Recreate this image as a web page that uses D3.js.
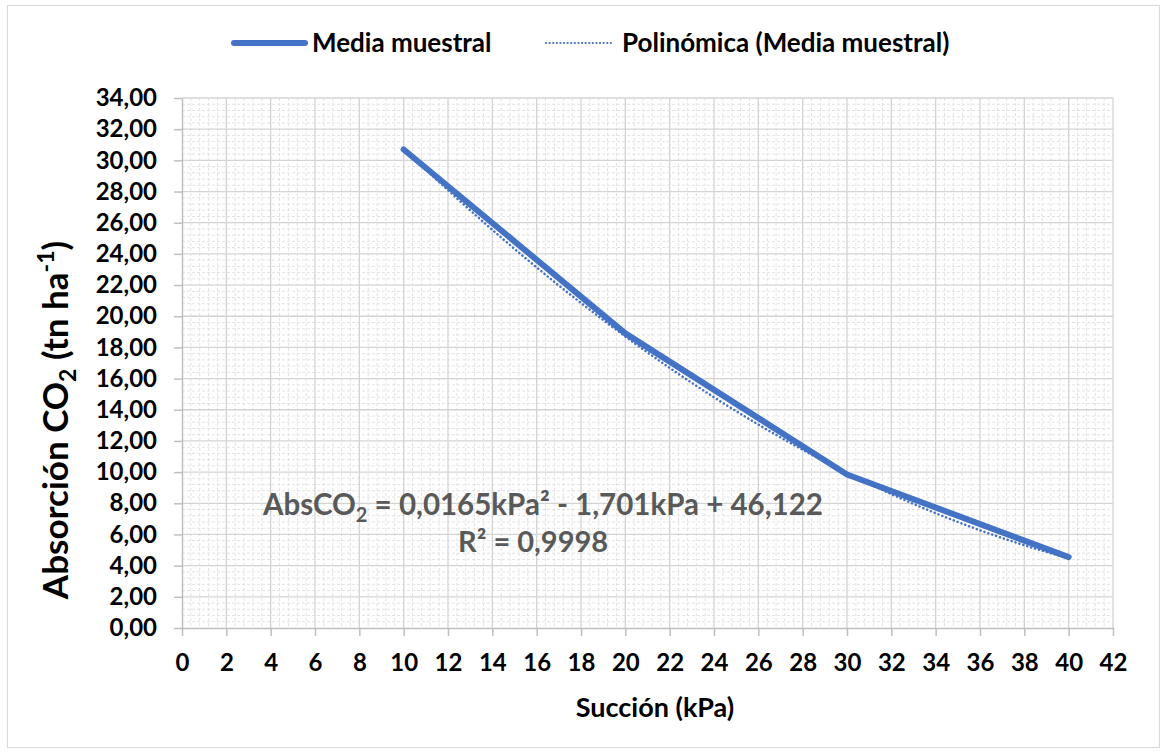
<!DOCTYPE html>
<html><head><meta charset="utf-8">
<script src="https://cdn.jsdelivr.net/npm/d3@7"></script>
<style>body{margin:0;background:#fff;} svg{display:block;font-family:Lato,'Open Sans',sans-serif;}</style>
</head><body><svg id="c" width="1166" height="755"></svg>
<script>
const suction = [10, 20, 30, 40];
const meanValues = [30.7, 18.9, 9.85, 4.55];
const polyCoefs = [0.0165, -1.701, 46.122]; // a x^2 + b x + c, as displayed
const xTicks = d3.range(0, 43, 2);
const yTicks = d3.range(0, 35, 2);
const seriesNames = ["Media muestral", "Polinómica (Media muestral)"];

const W = 1166, H = 755;
const m = {l: 182, r: 1113, t: 98, b: 628};
const svg = d3.select("#c");
const x = d3.scaleLinear().domain([0, 42]).range([m.l, m.r]);
const y = d3.scaleLinear().domain([0, 34]).range([m.b, m.t]);
const blue = "#4472C4";

svg.append("rect").attr("x", 7.5).attr("y", 5.5).attr("width", 1152).attr("height", 742)
  .attr("fill", "#fff").attr("stroke", "#d9d9d9").attr("stroke-width", 1);

// minor grid
const g = svg.append("g");
const xMinor = d3.range(0, 42.001, 0.4).filter(v => Math.abs(v/2 - Math.round(v/2)) > 1e-6);
const yMinor = d3.range(0, 34.001, 0.4).filter(v => Math.abs(v/2 - Math.round(v/2)) > 1e-6);
g.selectAll(".xm").data(xMinor).join("line")
  .attr("x1", d => x(d)).attr("x2", d => x(d)).attr("y1", m.t).attr("y2", m.b)
  .attr("stroke", "#e3e3e3").attr("stroke-width", 1).attr("stroke-dasharray", "3,2");
g.selectAll(".ym").data(yMinor).join("line")
  .attr("y1", d => y(d)).attr("y2", d => y(d)).attr("x1", m.l).attr("x2", m.r)
  .attr("stroke", "#e3e3e3").attr("stroke-width", 1).attr("stroke-dasharray", "3,2");
// major grid
g.selectAll(".xM").data(xTicks.slice(1)).join("line")
  .attr("x1", d => x(d)).attr("x2", d => x(d)).attr("y1", m.t).attr("y2", m.b)
  .attr("stroke", "#d4d4d4").attr("stroke-width", 1.3);
g.selectAll(".yM").data(yTicks.slice(1)).join("line")
  .attr("y1", d => y(d)).attr("y2", d => y(d)).attr("x1", m.l).attr("x2", m.r)
  .attr("stroke", "#d4d4d4").attr("stroke-width", 1.3);

// axes
const fmt = d => d3.format(".2f")(d).replace(".", ",");
const xAxis = svg.append("g").attr("transform", `translate(0,${m.b})`)
  .call(d3.axisBottom(x).tickValues(xTicks).tickSize(8).tickSizeOuter(0).tickPadding(15).tickFormat(d3.format("d")));
const yAxis = svg.append("g").attr("transform", `translate(${m.l},0)`)
  .call(d3.axisLeft(y).tickValues(yTicks).tickSize(8).tickSizeOuter(0).tickPadding(17).tickFormat(fmt));
[xAxis, yAxis].forEach(a => {
  a.select(".domain").attr("stroke", "#bfbfbf").attr("stroke-width", 1.5);
  a.selectAll(".tick line").attr("stroke", "#bfbfbf").attr("stroke-width", 1.5);
  a.selectAll("text").attr("fill", "#000").attr("font-size", 24).attr("font-weight", 700).attr("font-family", "Lato");
});
xAxis.selectAll("text").attr("dy", "0.85em");

// trendline (from displayed coefficients)
const poly = v => polyCoefs[0]*v*v + polyCoefs[1]*v + polyCoefs[2];
const trendX = d3.range(suction[0], suction[suction.length-1] + 0.001, 0.25);
svg.append("path").datum(trendX)
  .attr("d", d3.line().x(d => x(d)).y(d => y(poly(d))))
  .attr("fill", "none").attr("stroke", blue).attr("stroke-width", 2.5)
  .attr("stroke-dasharray", "0.1,4").attr("stroke-linecap", "round");

// series
svg.append("path").datum(suction.map((s, i) => [s, meanValues[i]]))
  .attr("d", d3.line().x(d => x(d[0])).y(d => y(d[1])))
  .attr("fill", "none").attr("stroke", blue).attr("stroke-width", 6)
  .attr("stroke-linecap", "round").attr("stroke-linejoin", "round");

// legend
const lg = svg.append("g");
lg.append("line").attr("x1", 234).attr("x2", 305).attr("y1", 43).attr("y2", 43)
  .attr("stroke", blue).attr("stroke-width", 6).attr("stroke-linecap", "round");
lg.append("text").attr("x", 312).attr("y", 52).text(seriesNames[0])
  .attr("font-size", 26).attr("font-weight", 700);
lg.append("line").attr("x1", 546).attr("x2", 612).attr("y1", 43).attr("y2", 43)
  .attr("stroke", blue).attr("stroke-width", 2.2).attr("stroke-dasharray", "0.1,3.5").attr("stroke-linecap", "round");
lg.append("text").attr("x", 622).attr("y", 52).text(seriesNames[1])
  .attr("font-size", 26).attr("font-weight", 700);

// equation
const eq = svg.append("text").attr("x", 263).attr("y", 515).attr("font-size", 29.5).attr("font-weight", 700).attr("fill", "#595959");
eq.append("tspan").text("AbsCO");
eq.append("tspan").text("2").attr("font-size", 20).attr("dy", 7);
eq.append("tspan").text(" = 0,0165kPa² - 1,701kPa + 46,122").attr("dy", -7);
svg.append("text").attr("x", 458).attr("y", 552).attr("font-size", 29).attr("font-weight", 700).attr("fill", "#595959")
  .text("R² = 0,9998");

// axis titles
svg.append("text").attr("x", 655).attr("y", 717).attr("text-anchor", "middle")
  .attr("font-size", 27).attr("font-weight", 700).text("Succión (kPa)");
const yt = svg.append("text").attr("transform", `translate(68,420) rotate(-90)`)
  .attr("text-anchor", "middle").attr("font-size", 35).attr("font-weight", 700);
yt.append("tspan").text("Absorción CO");
yt.append("tspan").text("2").attr("font-size", 23).attr("dy", 8);
yt.append("tspan").text(" (tn ha").attr("dy", -8);
yt.append("tspan").text("-1").attr("font-size", 23).attr("dy", -14);
yt.append("tspan").text(")").attr("dy", 14);
</script></body></html>
